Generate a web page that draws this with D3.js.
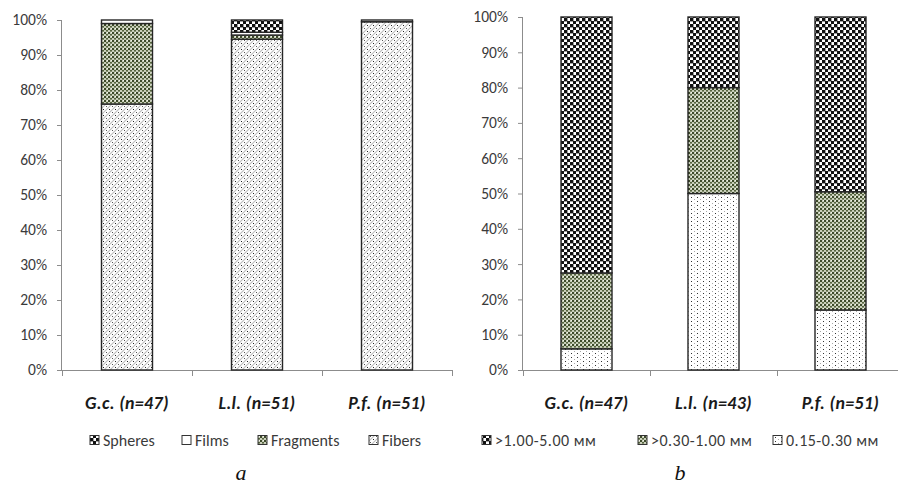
<!DOCTYPE html>
<html>
<head>
<meta charset="utf-8">
<script src="https://cdn.jsdelivr.net/npm/d3@7/dist/d3.min.js"></script>
<style>
  html, body { margin: 0; padding: 0; background: #fff; }
  svg { display: block; }
</style>
</head>
<body>
<svg id="chart" width="898" height="484"></svg>
<script>
// Panel a: particle shape composition (% of particles)
const shapeCategories = ["G.c. (n=47)", "L.l. (n=51)", "P.f. (n=51)"];
const shapeKeys = ["Fibers", "Fragments", "Films", "Spheres"];
const fibers    = [76, 94.5, 99.5];
const fragments = [23, 1.2, 0];
const films     = [1, 0.8, 0.5];
const spheres   = [0, 3.5, 0];
const shapeLegend = ["Spheres", "Films", "Fragments", "Fibers"];

// Panel b: particle size composition (% of particles)
const sizeCategories = ["G.c. (n=47)", "L.l. (n=43)", "P.f. (n=51)"];
const sizeKeys = ["small", "medium", "large"];
const sizeSmall  = [6, 50, 17];
const sizeMedium = [21.5, 30, 33.5];
const sizeLarge  = [72.5, 20, 49.5];
const sizeLegend = [">1.00-5.00 мм", ">0.30-1.00 мм", "0.15-0.30 мм"];

const yTicks = [0, 10, 20, 30, 40, 50, 60, 70, 80, 90, 100];

const svg = d3.select("#chart");
const defs = svg.append("defs");

// ---- fill patterns ----
function pattern(id, w, h, draw) {
  const p = defs.append("pattern").attr("id", id)
    .attr("patternUnits", "userSpaceOnUse").attr("width", w).attr("height", h);
  draw(p);
}
// fibers: grey diagonal hatch with black specks
pattern("pFibers", 6, 6, p => {
  p.append("rect").attr("width", 6).attr("height", 6).attr("fill", "#fff");
  p.append("path").attr("d", "M0,6L6,0M-1,1L1,-1M5,7L7,5").attr("stroke", "#bdbdbd").attr("stroke-width", 1.1);
  p.append("rect").attr("x", 1).attr("y", 1).attr("width", 1).attr("height", 1).attr("fill", "#222");
  p.append("rect").attr("x", 4).attr("y", 4).attr("width", 1).attr("height", 1).attr("fill", "#555");
});
// fragments / medium size: dense dark olive specks
pattern("pFrag", 4, 4, p => {
  p.append("rect").attr("width", 4).attr("height", 4).attr("fill", "#c9cfba");
  p.append("rect").attr("x", 0).attr("y", 0).attr("width", 2).attr("height", 2).attr("fill", "#3d4a2a");
  p.append("rect").attr("x", 2).attr("y", 2).attr("width", 2).attr("height", 1.6).attr("fill", "#56653f");
  p.append("rect").attr("x", 3).attr("y", 0).attr("width", 1).attr("height", 1).attr("fill", "#f2f4ec");
});
// films: plain white
pattern("pFilms", 4, 4, p => {
  p.append("rect").attr("width", 4).attr("height", 4).attr("fill", "#fff");
});
// spheres / large size: black and white checkerboard
pattern("pCheck", 6, 6, p => {
  p.append("rect").attr("width", 6).attr("height", 6).attr("fill", "#fff");
  p.append("rect").attr("x", 0).attr("y", 0).attr("width", 3.4).attr("height", 3.4).attr("fill", "#111");
  p.append("rect").attr("x", 3).attr("y", 3).attr("width", 3.4).attr("height", 3.4).attr("fill", "#111");
});
// small size: sparse dot grid
pattern("pDots", 6, 4, p => {
  p.append("rect").attr("width", 6).attr("height", 4).attr("fill", "#fff");
  p.append("rect").attr("x", 1).attr("y", 1).attr("width", 1).attr("height", 1).attr("fill", "#333");
  p.append("rect").attr("x", 4).attr("y", 3).attr("width", 1).attr("height", 1).attr("fill", "#aaa");
});

const fontSans = "Carlito, Lato, 'Open Sans', sans-serif";

function drawPanel(opts) {
  const g = svg.append("g");
  const y = d3.scaleLinear().domain([0, 100]).range([370, opts.top]);
  const x = d3.scaleBand().domain(opts.categories).range([opts.left, opts.right]).padding(0);
  const barW = 51;

  // y axis
  const yAxis = g.append("g").attr("transform", `translate(${opts.left},0)`)
    .call(d3.axisLeft(y).tickValues(yTicks).tickSize(5).tickPadding(10).tickFormat(d => d + "%"));
  yAxis.select(".domain").attr("stroke", "#8c8c8c").attr("d", `M-0.5,${y(100)}V${y(0)}`);
  yAxis.selectAll(".tick line").attr("stroke", "#8c8c8c");
  yAxis.selectAll(".tick text").attr("fill", "#3a3a3a").style("font-family", fontSans).style("font-size", "15.5px");

  // x axis with boundary ticks between categories
  g.append("line").attr("x1", opts.left).attr("x2", opts.right).attr("y1", 370.5).attr("y2", 370.5)
    .attr("stroke", "#8c8c8c");
  const bounds = opts.categories.map(c => x(c)).concat([opts.right]);
  g.selectAll(".xb").data(bounds).join("line")
    .attr("x1", d => Math.round(d) + 0.5).attr("x2", d => Math.round(d) + 0.5)
    .attr("y1", 370).attr("y2", 376).attr("stroke", "#8c8c8c");

  g.selectAll(".xl").data(opts.categories).join("text")
    .attr("x", d => x(d) + x.bandwidth() / 2).attr("y", 409)
    .attr("text-anchor", "middle")
    .style("font-family", fontSans).style("font-size", "18px")
    .style("letter-spacing", "0.3px")
    .style("font-weight", "bold").style("font-style", "italic")
    .attr("fill", "#1a1a1a").text(d => d);

  // stacked bars
  const rows = opts.categories.map((c, i) => {
    const r = { cat: c };
    opts.keys.forEach((k, j) => r[k] = opts.series[j][i]);
    return r;
  });
  const stack = d3.stack().keys(opts.keys)(rows);
  stack.forEach((layer, j) => {
    g.selectAll(null).data(layer.filter(d => d[1] - d[0] > 0)).join("rect")
      .attr("x", d => x(d.data.cat) + x.bandwidth() / 2 - barW / 2)
      .attr("width", barW)
      .attr("y", d => y(d[1]))
      .attr("height", d => y(d[0]) - y(d[1]))
      .attr("fill", `url(#${opts.fills[j]})`)
      .attr("stroke", "#262626").attr("stroke-width", 1.4);
  });

  // legend
  const lg = g.append("g");
  opts.legend.forEach((name, i) => {
    const lx = opts.legendX[i];
    lg.append("rect").attr("x", lx).attr("y", 435.5).attr("width", 9).attr("height", 9)
      .attr("fill", `url(#${opts.legendFills[i]})`).attr("stroke", "#333").attr("stroke-width", 1);
    lg.append("text").attr("x", lx + 13).attr("y", 445.5)
      .style("font-family", fontSans).style("font-size", "16px")
      .style("letter-spacing", opts.legendSpacing)
      .attr("fill", "#3a3a3a").text(name);
  });

  svg.append("text").attr("x", opts.panelX).attr("y", 480).attr("text-anchor", "middle")
    .style("font-family", "'Liberation Serif', 'DejaVu Serif', serif").style("font-size", "22px")
    .style("font-style", "italic").attr("fill", "#111").text(opts.panelLabel);
}

drawPanel({
  categories: shapeCategories, keys: shapeKeys,
  series: [fibers, fragments, films, spheres],
  fills: ["pFibers", "pFrag", "pFilms", "pCheck"],
  left: 62, right: 452, top: 20,
  legend: shapeLegend, legendFills: ["pCheck", "pFilms", "pFrag", "pFibers"],
  legendX: [90, 182, 258, 369], legendSpacing: "0px",
  panelX: 241, panelLabel: "a"
});

drawPanel({
  categories: sizeCategories, keys: sizeKeys,
  series: [sizeSmall, sizeMedium, sizeLarge],
  fills: ["pDots", "pFrag", "pCheck"],
  left: 523, right: 904, top: 17,
  legend: sizeLegend, legendFills: ["pCheck", "pFrag", "pDots"],
  legendX: [482, 638, 773], legendSpacing: "0.5px",
  panelX: 680, panelLabel: "b"
});
</script>
</body>
</html>
